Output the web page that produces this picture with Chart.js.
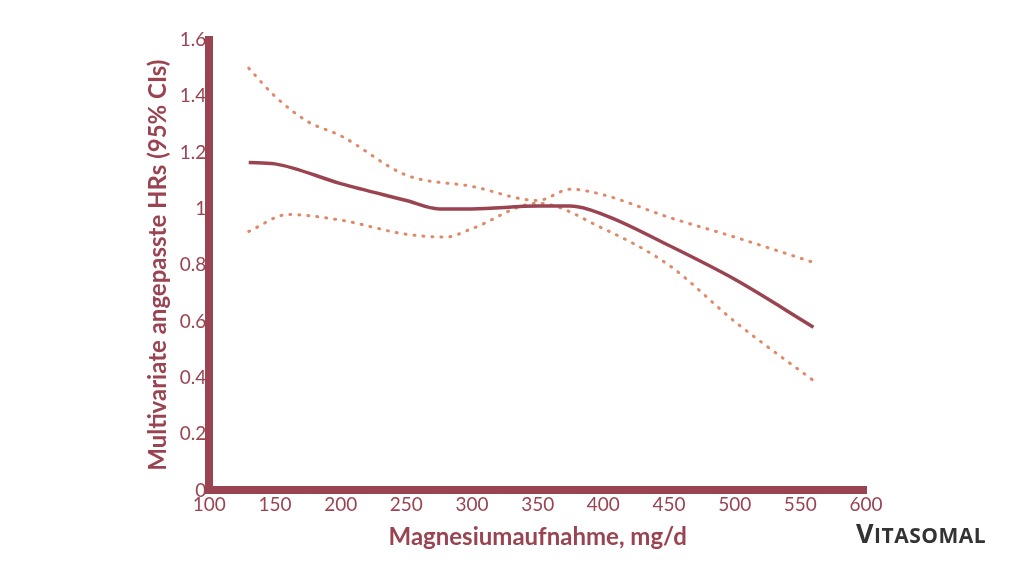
<!DOCTYPE html><html><head><meta charset="utf-8">
<script src="https://cdn.jsdelivr.net/npm/chart.js@4"></script>
<style>html,body{margin:0;background:#fff}#w{position:relative;width:1024px;height:576px}
#logo{position:absolute;left:856px;top:514px;font:700 21px "Open Sans",sans-serif;color:#333;letter-spacing:0.5px}
#logo span{font-size:27px}</style></head><body><div id="w"><canvas id="c" width="1024" height="576"></canvas>
<div id="logo"><span>V</span>ITASOMAL</div></div>
<script>
const mainX=[130,150,200,250,275,300,350,375,400,450,500,560];
const mainY=[1.165,1.16,1.09,1.03,1.0,1.0,1.01,1.01,0.98,0.87,0.75,0.58];
const upX=[130,150,175,200,250,300,350,375,400,450,500,560];
const upY=[1.5,1.4,1.31,1.26,1.12,1.08,1.03,1.07,1.05,0.97,0.9,0.81];
const loX=[130,160,200,250,280,300,350,400,450,500,560];
const loY=[0.92,0.98,0.96,0.91,0.9,0.93,1.02,0.93,0.8,0.6,0.39];
const red='#9b4451',org='#e0896a';
const pts=(x,y)=>x.map((v,i)=>({x:v,y:y[i]}));
new Chart(document.getElementById('c'),{type:'scatter',data:{datasets:[
{data:pts(mainX,mainY),showLine:true,borderColor:red,borderWidth:3.5,pointRadius:0,tension:0.4,cubicInterpolationMode:'monotone'},
{data:pts(upX,upY),showLine:true,borderColor:org,borderWidth:3,borderDash:[1,8],borderCapStyle:'round',pointRadius:0,cubicInterpolationMode:'monotone'},
{data:pts(loX,loY),showLine:true,borderColor:org,borderWidth:3,borderDash:[1,8],borderCapStyle:'round',pointRadius:0,cubicInterpolationMode:'monotone'}]},
options:{responsive:false,animation:false,layout:{padding:{left:140,right:158,top:40,bottom:20}},
plugins:{legend:{display:false},tooltip:{enabled:false}},
scales:{x:{min:100,max:600,ticks:{stepSize:50,color:red,font:{family:'Lato',size:19}},grid:{display:false,drawTicks:false},border:{color:red,width:8},
title:{display:true,text:'Magnesiumaufnahme, mg/d',color:red,font:{family:'Lato',size:24,weight:'bold'}}},
y:{min:0,max:1.6,ticks:{stepSize:0.2,color:red,font:{family:'Lato',size:19},callback:v=>Math.round(v*10)/10},grid:{display:false,drawTicks:false},border:{color:red,width:8},
title:{display:true,text:'Multivariate angepasste HRs (95% CIs)',color:red,font:{family:'Lato',size:24,weight:'bold'}}}}}});
</script></body></html>
